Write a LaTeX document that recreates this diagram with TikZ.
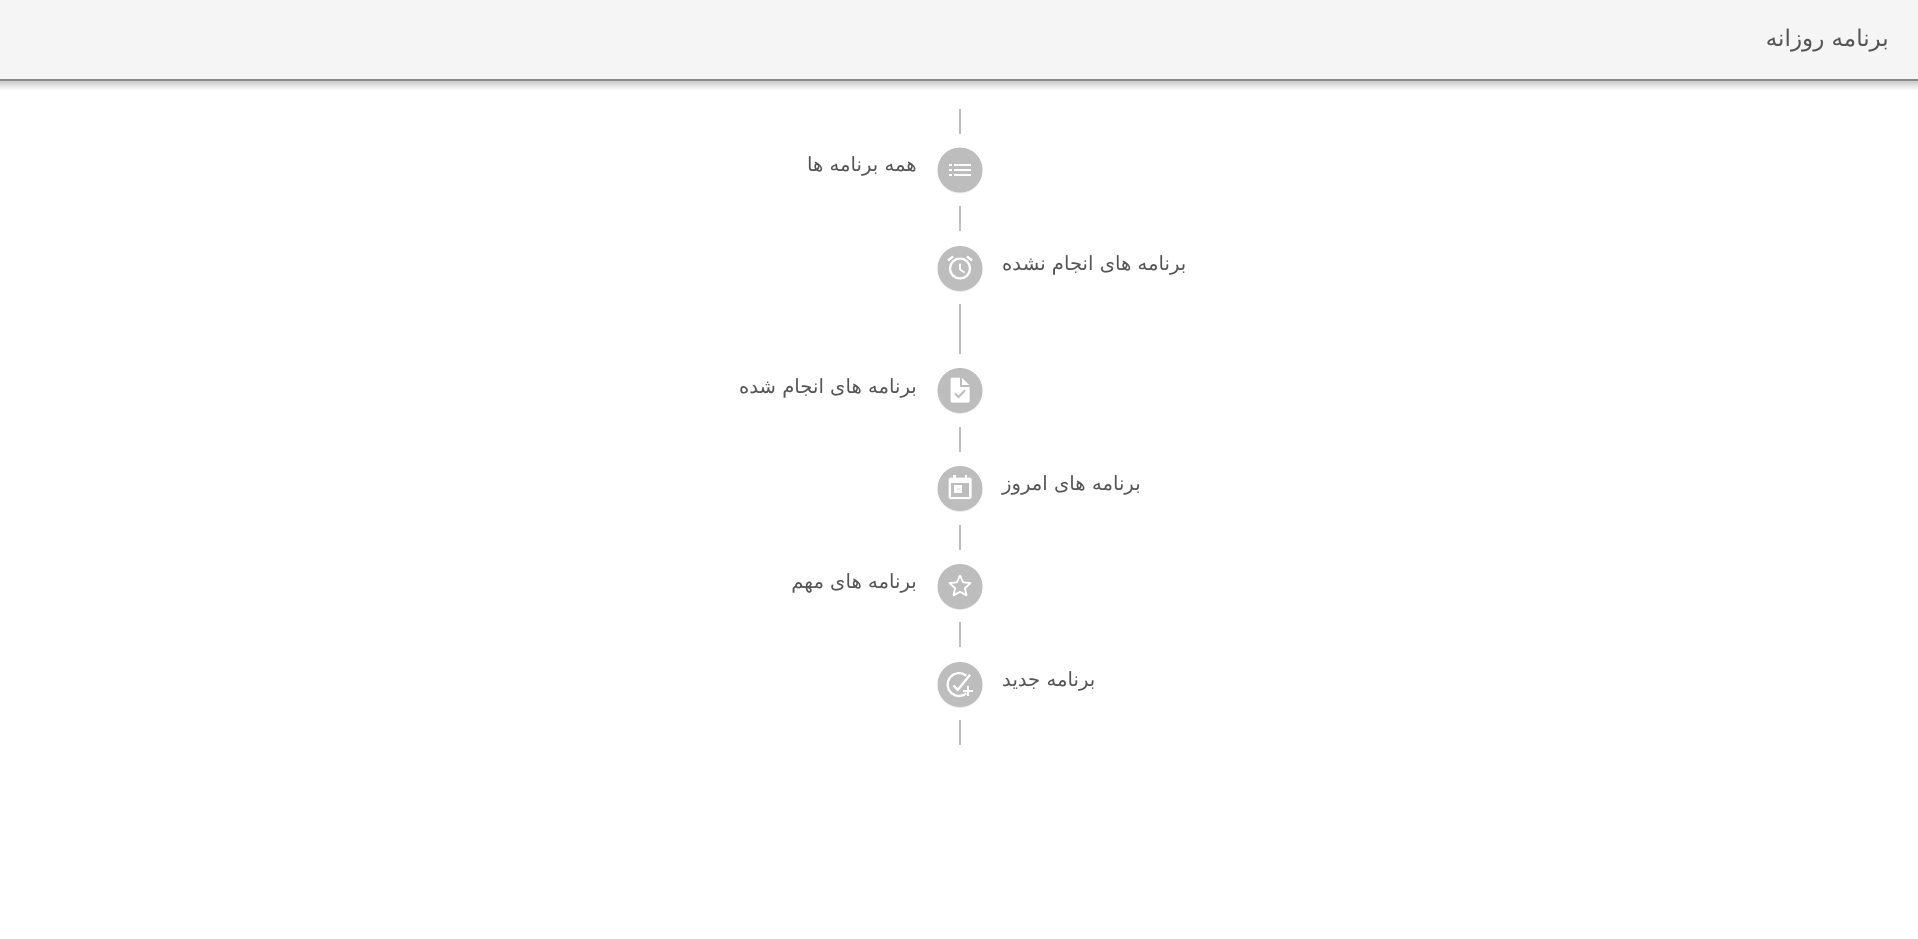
\documentclass[tikz,border=0pt]{standalone}
\usepackage{fontspec}
\usetikzlibrary{shadows}
\newfontfamily\arabicfont[Script=Arabic]{DejaVu Sans}
\TeXXeTstate=1
\definecolor{headbg}{HTML}{F5F5F5}
\definecolor{headline}{HTML}{8A8A8A}
\definecolor{itemgray}{HTML}{BDBDBD}
\definecolor{labelgray}{HTML}{555555}
\tikzset{
  item/.style={circle,fill=itemgray,minimum size=45pt,inner sep=0pt,
    drop shadow={shadow xshift=0pt,shadow yshift=-1pt,opacity=.15}},
  conn/.style={itemgray,line width=2pt},
  lbl/.style={text=labelgray,inner sep=0pt,font=\arabicfont\fontsize{19.6}{24}\selectfont},
  glyph/.style={white,line width=2.2pt}
}
\begin{document}
\begin{tikzpicture}[x=1pt,y=-1pt]
\useasboundingbox (0,0) rectangle (1918,938);
% header
\shade [top color=black!22,bottom color=white] (0,80) rectangle (1918,90);
\fill [headbg] (0,0) rectangle (1918,80);
\draw [headline,line width=1.5pt] (0,80) -- (1918,80);
\node [lbl,anchor=east,font=\arabicfont\fontsize{23}{28}\selectfont] (title) at (1889,41) {\beginR برنامه روزانه\endR};

% items
\node [item] (all) at (960,170) {};
\node [item] (late) at (960,268.5) {};
\node [item] (done) at (960,390.5) {};
\node [item] (today) at (960,488.5) {};
\node [item] (star) at (960,586.5) {};
\node [item] (new) at (960,684.5) {};

\node [lbl,anchor=east] (alltext) at (917,166) {\beginR همه برنامه ها\endR};
\node [lbl,anchor=west] (latetext) at (1002,265) {\beginR برنامه های انجام نشده\endR};
\node [lbl,anchor=east] (donetext) at (917,388) {\beginR برنامه های انجام شده\endR};
\node [lbl,anchor=west] (todaytext) at (1002,485) {\beginR برنامه های امروز\endR};
\node [lbl,anchor=east] (startext) at (917,583) {\beginR برنامه های مهم\endR};
\node [lbl,anchor=west] (newtext) at (1002,681) {\beginR برنامه جدید\endR};

% connectors
\coordinate (topend) at (960,109);
\coordinate (bottomend) at (960,745);
\draw [conn,shorten >=36pt] (topend) -- (all.center);
\draw [conn,shorten <=36pt,shorten >=37.5pt] (all.center) -- (late.center);
\draw [conn,shorten <=35.5pt,shorten >=37pt] (late.center) -- (done.center);
\draw [conn,shorten <=36.5pt,shorten >=36.5pt] (done.center) -- (today.center);
\draw [conn,shorten <=36.5pt,shorten >=36.5pt] (today.center) -- (star.center);
\draw [conn,shorten <=35.5pt,shorten >=37.5pt] (star.center) -- (new.center);
\draw [conn,shorten <=35.5pt] (new.center) -- (bottomend);

% icons
\begin{scope}[shift={(all.center)}]
\fill [white] (-11,-6) rectangle (-8,-4);
\fill [white] (-11,-1) rectangle (-8,1);
\fill [white] (-11,4) rectangle (-8,6);
\fill [white] (-6.5,-6) rectangle (11,-4);
\fill [white] (-6.5,-1) rectangle (11,1);
\fill [white] (-6.5,4) rectangle (11,6);
\end{scope}
\begin{scope}[shift={(late.center)}]
\draw [glyph] (0,0) circle (10);
\draw [glyph,line width=1.6pt] (0,-5) -- (0,1) -- (4.5,4);
\draw [glyph] (-12,-8) -- (-7,-12);
\draw [glyph] (12,-8) -- (7,-12);
\end{scope}
\begin{scope}[shift={(done.center)}]
\fill [white,rounded corners=1pt] (-9.5,-13) -- (1.5,-13) -- (9.5,-5) -- (9.5,12) -- (-9.5,12) -- cycle;
\draw [itemgray,line width=1.2pt] (1,-13.5) -- (1,-4.5) -- (10,-4.5);
\draw [itemgray,line width=2pt] (-5,3) -- (-1.5,6.5) -- (5,0);
\end{scope}
\begin{scope}[shift={(today.center)}]
\fill [white,rounded corners=1.5pt] (-11.5,-11) rectangle (11.5,10.5);
\fill [white] (-7,-14) rectangle (-4.5,-9);
\fill [white] (4.5,-14) rectangle (7,-9);
\fill [itemgray] (-9,-6) rectangle (9,8);
\fill [white] (-6.5,-3.5) rectangle (2,4);
\fill [white!70!itemgray] (-3.5,-1) rectangle (-0.5,1.5);
\end{scope}
\begin{scope}[shift={(star.center)}]
\draw [glyph,line width=1.8pt,line join=round] (-90:11) -- (-54:5.2) -- (-18:11) -- (18:5.2) -- (54:11) -- (90:5.2) -- (126:11) -- (162:5.2) -- (198:11) -- (234:5.2) -- cycle;
\end{scope}
\begin{scope}[shift={(new.center)}]
\draw [glyph] (6.4,-8.8) arc (-50:-310:11.5);
\draw [glyph] (-6.5,1) -- (-2.2,5.3) -- (10,-9.7);
\draw [glyph] (8.3,1.3) -- (8.3,11.3);
\draw [glyph] (3.3,6.3) -- (13.3,6.3);
\end{scope}
\end{tikzpicture}
\end{document}
